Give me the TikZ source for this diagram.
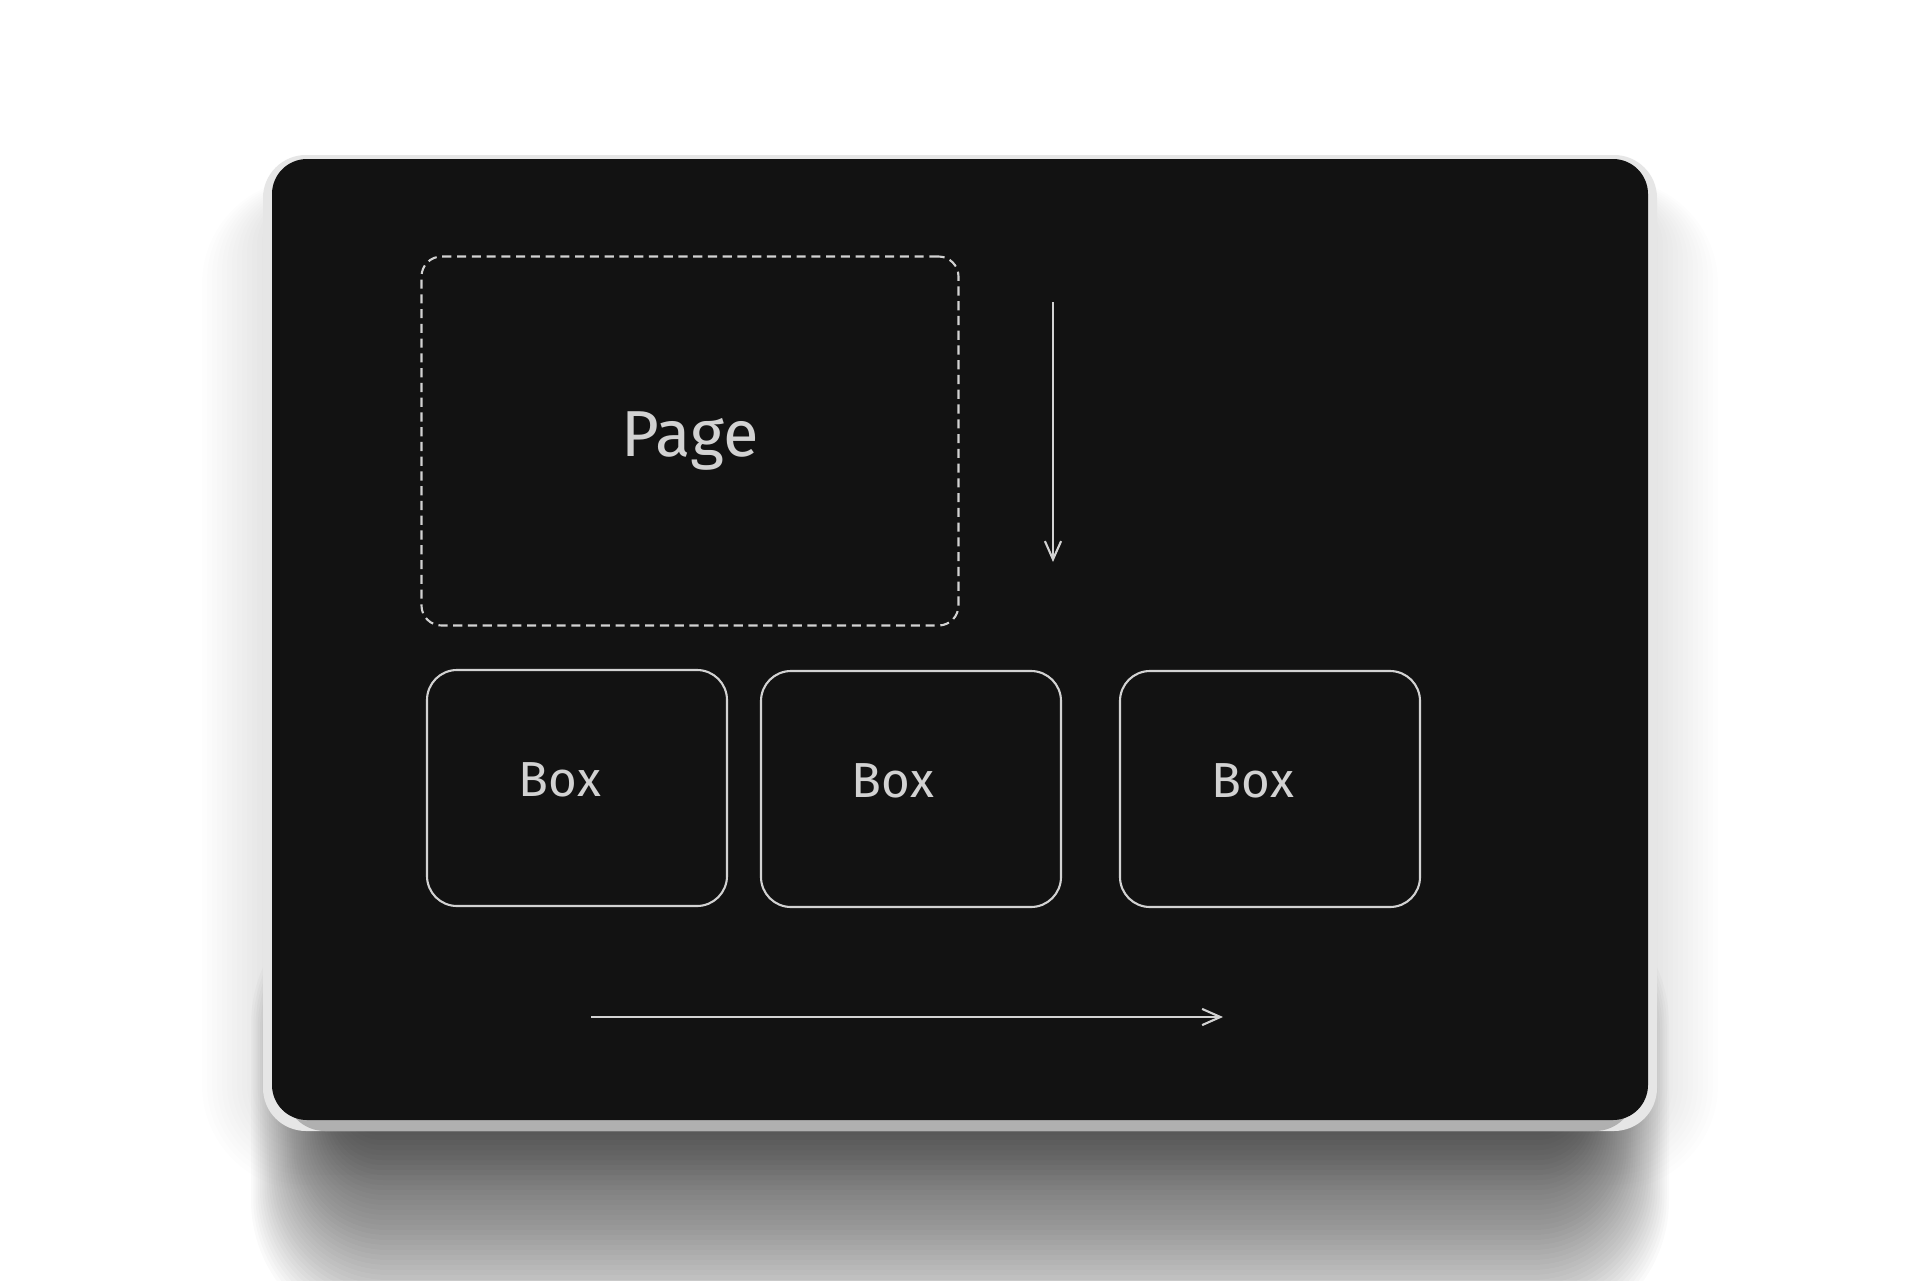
\documentclass[tikz,border=0pt]{standalone}
\usepackage{fontspec}
\setmainfont{Fira Sans}
\usepackage{tikz}
\usetikzlibrary{arrows.meta}
\usepackage{xcolor}
\definecolor{cardbg}{HTML}{121212}
\definecolor{ink}{HTML}{D2D2D2}
\definecolor{rimside}{HTML}{E6E6E6}
\definecolor{rimbottom}{HTML}{B0B0B0}

\begin{document}
\begin{tikzpicture}[x=0.1mm, y=-0.1mm,
        sketch/.style={draw=ink, line width=0.6pt},
        pagebox/.style={sketch, dash pattern=on 2.6pt off 1.6pt, rounded corners=2mm,
            minimum width=53.7mm, minimum height=36.9mm, inner sep=0pt,
            text=ink, font=\fontsize{18.5}{20}\selectfont},
        itembox/.style={sketch, rounded corners=3mm, minimum width=30mm,
            minimum height=23.6mm, inner sep=0pt},
        itemlabel/.style={text=ink, inner sep=0pt, font=\fontsize{14}{16}\selectfont},
        flow/.style={sketch, -{Straight Barb[length=5.2pt, width=4.6pt]}}]
        % Background
        \useasboundingbox (0, 0) rectangle (1920, 1280);
        \fill [white] (0, 0) rectangle (1920, 1280);
        % Shadow, faint all round
        \foreach \e in {0, 5, ..., 70}
            \fill [black, opacity=0.006, rounded corners=3.5mm+0.1mm*\e]
                (272-\e, 200-0.3*\e) rectangle (1648+\e, 1120+\e);
        % Shadow, below the card
        \foreach \e in {0, 5, ..., 220}
            \fill [black, opacity=0.02, rounded corners=3mm+0.05mm*\e]
                (350-0.45*\e, 1060-0.8*\e) rectangle (1570+0.45*\e, 1120+\e);
        % Rim
        \fill [rimside, rounded corners=4.3mm] (263, 155) rectangle (1657, 1131);
        \fill [rimbottom, rounded corners=4mm] (285, 900) rectangle (1635, 1131);
        % Card
        \fill [cardbg, rounded corners=3.5mm] (272, 159) rectangle (1648, 1120);
        % Page
        \node [pagebox] (page) at (690, 441) {Page};
        % Boxes
        \node [itembox] (box1) at (577, 788) {};
        \node [itembox] (box2) at (911, 789) {};
        \node [itembox] (box3) at (1270, 789) {};
        \node [itemlabel] (label1) at (560, 780) {Box};
        \node [itemlabel] (label2) at (893, 781) {Box};
        \node [itemlabel] (label3) at (1253, 781) {Box};
        % Down arrow
        \coordinate (down top) at (1053, 302);
        \coordinate (down tip) at (1053, 562);
        \draw [flow] (down top) -- (down tip);
        % Right arrow
        \coordinate (right tail) at (591, 1017);
        \coordinate (right tip) at (1223, 1017);
        \draw [flow] (right tail) -- (right tip);
    \end{tikzpicture}
\end{document}
